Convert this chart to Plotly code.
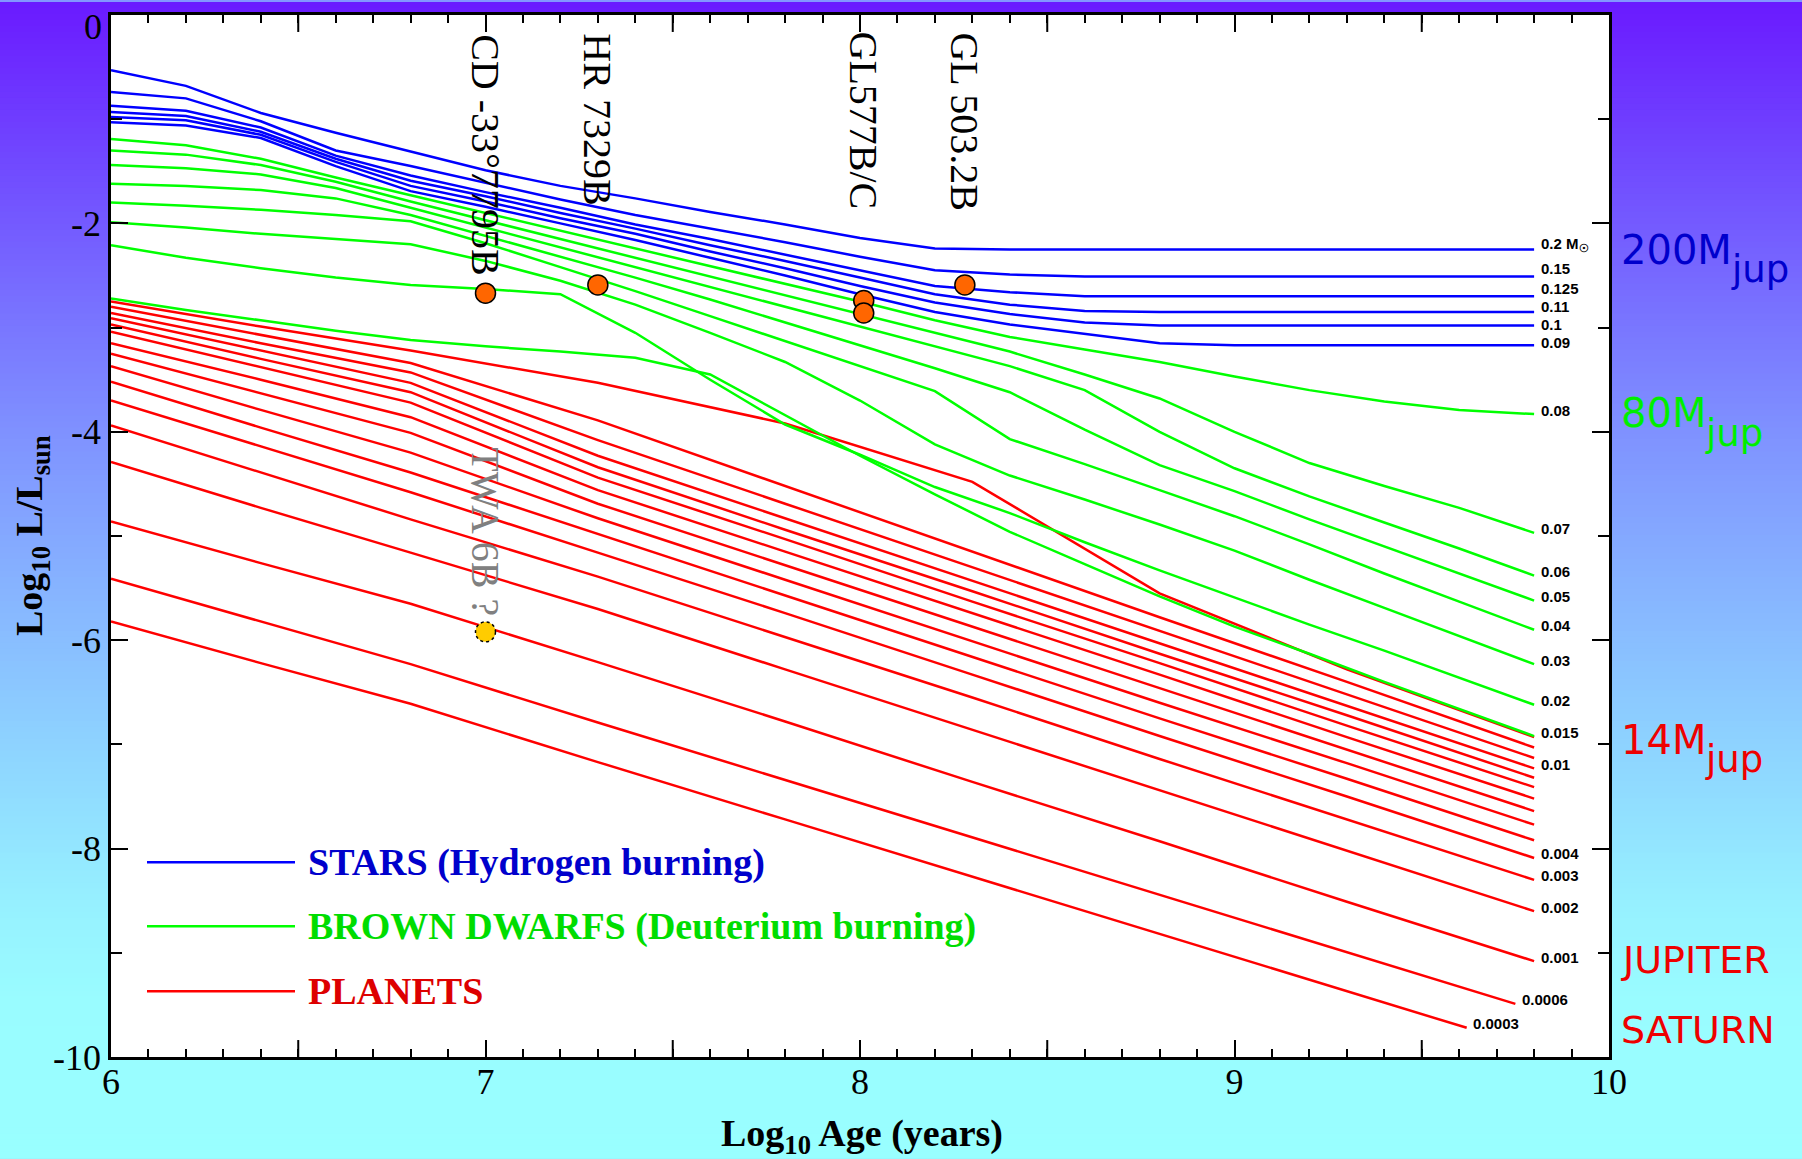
import plotly.graph_objects as go

# ---------------- data (log10 age in years, log10 L/Lsun) ----------------
AGE = [6.0, 6.2, 6.4, 6.6, 6.8, 7.0, 7.2, 7.4, 7.6, 7.8,
       8.0, 8.2, 8.4, 8.6, 8.8, 9.0, 9.2, 9.4, 9.6, 9.8]

STAR_LABELS = ["0.2 M<sub>☉</sub>", "0.15", "0.125", "0.11", "0.1", "0.09"]
STAR_L = [
    [-0.53, -0.68, -0.94, -1.13, -1.31, -1.49, -1.64, -1.76, -1.89, -2.01,
     -2.14, -2.24, -2.25, -2.25, -2.25, -2.25, -2.25, -2.25, -2.25, -2.25],
    [-0.74, -0.80, -1.02, -1.30, -1.45, -1.61, -1.77, -1.92, -2.05, -2.18,
     -2.32, -2.45, -2.49, -2.51, -2.51, -2.51, -2.51, -2.51, -2.51, -2.51],
    [-0.87, -0.92, -1.08, -1.35, -1.54, -1.70, -1.85, -2.01, -2.15, -2.30,
     -2.45, -2.60, -2.66, -2.70, -2.70, -2.70, -2.70, -2.70, -2.70, -2.70],
    [-0.93, -0.97, -1.12, -1.38, -1.59, -1.74, -1.90, -2.05, -2.21, -2.36,
     -2.52, -2.68, -2.78, -2.84, -2.85, -2.85, -2.85, -2.85, -2.85, -2.85],
    [-0.98, -1.01, -1.15, -1.41, -1.64, -1.79, -1.95, -2.10, -2.27, -2.43,
     -2.60, -2.76, -2.87, -2.95, -2.98, -2.98, -2.98, -2.98, -2.98, -2.98],
    [-1.03, -1.06, -1.18, -1.45, -1.69, -1.84, -2.00, -2.16, -2.33, -2.50,
     -2.68, -2.85, -2.97, -3.06, -3.15, -3.17, -3.17, -3.17, -3.17, -3.17],
]
STAR_LABEL_SHIFT = [5, 8, 8, 5, 1, 3]

BD_LABELS = ["0.08", "0.07", "0.06", "0.05", "0.04", "0.03", "0.02", "0.015"]
BD_L = [
    [-1.19, -1.25, -1.38, -1.56, -1.73, -1.90, -2.07, -2.24, -2.41, -2.58,
     -2.75, -2.93, -3.09, -3.21, -3.33, -3.47, -3.60, -3.71, -3.79, -3.83],
    [-1.30, -1.34, -1.44, -1.60, -1.79, -1.97, -2.15, -2.33, -2.51, -2.69,
     -2.87, -3.05, -3.23, -3.45, -3.68, -4.00, -4.30, -4.52, -4.73, -4.97],
    [-1.44, -1.47, -1.53, -1.66, -1.85, -2.04, -2.23, -2.42, -2.61, -2.80,
     -2.99, -3.18, -3.37, -3.60, -4.00, -4.35, -4.62, -4.87, -5.12, -5.38],
    [-1.62, -1.64, -1.68, -1.76, -1.92, -2.12, -2.32, -2.52, -2.73, -2.95,
     -3.17, -3.39, -3.62, -3.98, -4.32, -4.57, -4.84, -5.10, -5.36, -5.62],
    [-1.80, -1.83, -1.87, -1.92, -1.98, -2.19, -2.42, -2.65, -2.89, -3.13,
     -3.37, -3.61, -4.07, -4.31, -4.56, -4.81, -5.08, -5.36, -5.63, -5.90],
    [-1.99, -2.04, -2.10, -2.15, -2.20, -2.36, -2.55, -2.78, -3.05, -3.33,
     -3.70, -4.12, -4.42, -4.65, -4.89, -5.14, -5.42, -5.69, -5.96, -6.23],
    [-2.21, -2.33, -2.43, -2.52, -2.59, -2.63, -2.68, -3.05, -3.50, -3.93,
     -4.22, -4.53, -4.78, -5.06, -5.33, -5.59, -5.85, -6.10, -6.36, -6.62],
    [-2.72, -2.83, -2.93, -3.03, -3.12, -3.18, -3.23, -3.29, -3.45, -3.84,
     -4.23, -4.60, -4.96, -5.27, -5.58, -5.87, -6.13, -6.40, -6.66, -6.92],
]

PLANET_AGE = [6.0, 6.4, 6.8, 7.3, 7.8, 8.3, 8.8, 9.3, 9.8]
PLANET_END_AGE = [9.8] * 14 + [9.75, 9.62]
PLANET_LABELS = ["", "", "", "0.01", "", "", "", "", "", "",
                 "0.004", "0.003", "0.002", "0.001", "0.0006", "0.0003"]
PLANET_L = [
    [-2.75, -2.99, -3.22, -3.53, -3.92, -4.48, -5.55, -6.28, -6.93],
    [-2.80, -3.07, -3.34, -3.89, -4.52, -5.15, -5.78, -6.40, -7.03],
    [-2.86, -3.15, -3.43, -4.08, -4.69, -5.30, -5.91, -6.52, -7.13],
    [-2.91, -3.22, -3.53, -4.23, -4.83, -5.43, -6.03, -6.63, -7.23],
    [-2.97, -3.30, -3.62, -4.34, -4.94, -5.53, -6.13, -6.72, -7.32],
    [-3.04, -3.38, -3.72, -4.44, -5.03, -5.63, -6.22, -6.82, -7.41],
    [-3.15, -3.50, -3.86, -4.56, -5.15, -5.74, -6.33, -6.93, -7.52],
    [-3.25, -3.63, -4.01, -4.69, -5.28, -5.87, -6.46, -7.05, -7.64],
    [-3.37, -3.79, -4.20, -4.83, -5.42, -6.01, -6.60, -7.18, -7.77],
    [-3.52, -3.96, -4.39, -4.98, -5.57, -6.16, -6.75, -7.33, -7.92],
    [-3.70, -4.14, -4.58, -5.16, -5.74, -6.33, -6.92, -7.50, -8.09],
    [-3.94, -4.39, -4.84, -5.39, -5.97, -6.55, -7.14, -7.72, -8.30],
    [-4.29, -4.73, -5.16, -5.70, -6.28, -6.86, -7.44, -8.02, -8.60],
    [-4.86, -5.26, -5.65, -6.21, -6.78, -7.36, -7.93, -8.51, -9.08],
    [-5.41, -5.82, -6.23, -6.79, -7.34, -7.89, -8.44, -8.99, -9.49],
    [-5.82, -6.22, -6.61, -7.17, -7.72, -8.27, -8.82, -9.37, -9.72],
]

OBJ_NAMES = ["CD -33°7795B", "HR 7329B", "GL577B/C", "GL577B/C", "GL 503.2B"]
OBJ_AGE = [7.00, 7.30, 8.01, 8.01, 8.28]
OBJ_LUM = [-2.67, -2.59, -2.74, -2.86, -2.59]
OBJ_LABEL_Y = [-1.34, -1.00, -1.01, None, -1.03]

TWA_NAME = "TWA 6B ?"
TWA_AGE = 7.00
TWA_LUM = -5.92
TWA_LABEL_Y = -4.96

X_TICKS = [6, 7, 8, 9, 10]
X_TEXT = ["6", "7", "8", "9", "10"]
X_HALF_TICKS = [6.5, 7.5, 8.5, 9.5]
Y_TICKS = [-2, -4, -6, -8, -10]
Y_TEXT = ["-2", "-4", "-6", "-8", "-10"]

# ---------------- geometry / style ----------------
W, H = 1802, 1159
ML, MR, MT, MB = 111, 193, 13, 102
PW, PH = W - ML - MR, H - MT - MB
BLUE, GREEN, RED = "#0000ff", "#00ff00", "#ff0000"
SERIF = "Liberation Serif, Times New Roman, serif"
SANS = "DejaVu Sans, Verdana, sans-serif"


def xp(px):
    return (px - ML) / PW


def yp(py):
    return (H - MB - py) / PH


STOPS = [(0, (106, 26, 255)), (150, (112, 70, 255)), (300, (120, 112, 255)),
         (450, (128, 150, 255)), (600, (135, 182, 255)), (750, (142, 212, 255)),
         (900, (150, 240, 255)), (1000, (153, 252, 255)), (1159, (153, 255, 255))]


def grad(py):
    for (a, ca), (b, cb) in zip(STOPS[:-1], STOPS[1:]):
        if a <= py <= b:
            t = (py - a) / (b - a)
            return "rgb(%d,%d,%d)" % tuple(round(ca[i] + t * (cb[i] - ca[i])) for i in range(3))
    return "rgb(153,255,255)"


shapes = []
step = 6
for py in range(0, H, step):
    shapes.append(dict(type="rect", xref="paper", yref="paper", layer="below",
                       x0=xp(0), x1=xp(W), y0=yp(min(H, py + step + 1)), y1=yp(py),
                       fillcolor=grad(py + step / 2), line=dict(width=0)))
shapes.append(dict(type="rect", xref="paper", yref="paper", layer="below",
                   x0=0, x1=1, y0=0, y1=1, fillcolor="white", line=dict(width=0)))

# long half-unit ticks on bottom and top axes
for xv in X_HALF_TICKS:
    for y0, y1 in [(0, 17 / PH), (1 - 17 / PH, 1)]:
        shapes.append(dict(type="line", xref="x", yref="paper", x0=xv, x1=xv, y0=y0, y1=y1,
                           line=dict(color="black", width=2), layer="above"))

fig = go.Figure()

# planets (red)
for i, lums in enumerate(PLANET_L):
    ages = PLANET_AGE[:-1] + [PLANET_END_AGE[i]]
    fig.add_trace(go.Scatter(x=ages, y=lums, mode="lines",
                             line=dict(color=RED, width=2.5), showlegend=False,
                             hoverinfo="skip"))
# brown dwarfs (green)
for lums in BD_L:
    fig.add_trace(go.Scatter(x=AGE, y=lums, mode="lines",
                             line=dict(color=GREEN, width=2.5), showlegend=False,
                             hoverinfo="skip"))
# stars (blue)
for lums in STAR_L:
    fig.add_trace(go.Scatter(x=AGE, y=lums, mode="lines",
                             line=dict(color=BLUE, width=2.5), showlegend=False,
                             hoverinfo="skip"))

# observed objects
fig.add_trace(go.Scatter(x=OBJ_AGE, y=OBJ_LUM, mode="markers",
                         marker=dict(size=20, color="#ff6600",
                                     line=dict(color="black", width=1.5)),
                         showlegend=False, hoverinfo="skip"))
fig.add_trace(go.Scatter(x=[TWA_AGE], y=[TWA_LUM], mode="markers",
                         marker=dict(size=20, color="#ffcc00",
                                     line=dict(color="rgba(0,0,0,0)", width=0)),
                         showlegend=False, hoverinfo="skip"))
shapes.append(dict(type="circle", xref="x", yref="y", xsizemode="pixel", ysizemode="pixel",
                   xanchor=TWA_AGE, yanchor=TWA_LUM, x0=-10, x1=10, y0=-10, y1=10,
                   line=dict(color="black", width=1.5, dash="dot"), layer="above"))

annotations = []
# object labels (rotated)
seen = set()
for name, age, ly in zip(OBJ_NAMES, OBJ_AGE, OBJ_LABEL_Y):
    if ly is None or name in seen:
        continue
    seen.add(name)
    annotations.append(dict(x=age, y=ly, xref="x", yref="y", text=name, showarrow=False,
                            textangle=90, xanchor="center", yanchor="middle",
                            font=dict(family=SERIF, size=40, color="black")))
annotations.append(dict(x=TWA_AGE, y=TWA_LABEL_Y, xref="x", yref="y", text=TWA_NAME,
                        showarrow=False, textangle=90, xanchor="center", yanchor="middle",
                        font=dict(family=SERIF, size=40, color="#808080")))

# mass labels at track ends
LBL_FONT = dict(family="Liberation Sans, Arial, sans-serif", size=15, color="black")
for lab, lums, sh in zip(STAR_LABELS, STAR_L, STAR_LABEL_SHIFT):
    annotations.append(dict(x=AGE[-1] + 0.015, y=lums[-1], text="<b>%s</b>" % lab,
                            showarrow=False, xanchor="left", yanchor="middle", yshift=sh,
                            borderpad=0, font=LBL_FONT))
for lab, lums in zip(BD_LABELS, BD_L):
    annotations.append(dict(x=AGE[-1] + 0.015, y=lums[-1], text="<b>%s</b>" % lab,
                            showarrow=False, xanchor="left", yanchor="middle", yshift=4,
                            borderpad=0, font=LBL_FONT))
for i, (lab, lums) in enumerate(zip(PLANET_LABELS, PLANET_L)):
    if lab:
        annotations.append(dict(x=PLANET_END_AGE[i] + 0.015, y=lums[-1], text="<b>%s</b>" % lab,
                                showarrow=False, xanchor="left", yanchor="middle", yshift=4,
                                borderpad=0, font=LBL_FONT))

# legend drawn inside the plot
LEG_ROWS = [("STARS (Hydrogen burning)", BLUE, "#0000cc", 862),
            ("BROWN DWARFS (Deuterium burning)", GREEN, "#00dd00", 926),
            ("PLANETS", RED, "#dd0000", 991)]
for text, lc, tc, py in LEG_ROWS:
    shapes.append(dict(type="line", xref="paper", yref="paper", x0=xp(147), x1=xp(295),
                       y0=yp(py), y1=yp(py), line=dict(color=lc, width=2.5), layer="above"))
    annotations.append(dict(x=xp(306), y=yp(py), xref="paper", yref="paper",
                            text="<b>%s</b>" % text, showarrow=False, xanchor="left",
                            yanchor="middle", font=dict(family=SERIF, size=38, color=tc)))

# right-side mass class labels
SIDE = [("200M", "jup", "#0000cc", 248, 1729, 268),
        ("80M", "jup", "#00ee00", 412, 1703, 432),
        ("14M", "jup", "#ee0000", 739, 1703, 759)]
for big, sub, col, py, sx, sy in SIDE:
    annotations.append(dict(x=xp(1619), y=yp(py), xref="paper", yref="paper", text=big,
                            showarrow=False, xanchor="left", yanchor="middle",
                            font=dict(family=SANS, size=40, color=col)))
    annotations.append(dict(x=xp(sx), y=yp(sy), xref="paper", yref="paper", text=sub,
                            showarrow=False, xanchor="left", yanchor="middle",
                            font=dict(family=SANS, size=37, color=col)))
for txt, py in [("JUPITER", 960), ("SATURN", 1030)]:
    annotations.append(dict(x=xp(1619), y=yp(py), xref="paper", yref="paper", text=txt,
                            showarrow=False, xanchor="left", yanchor="middle",
                            font=dict(family=SANS, size=38, color="#ee0000")))

# the "0" label sits just below the top of the axis in the reference
annotations.append(dict(x=xp(104), y=yp(25), xref="paper", yref="paper", text="0",
                        showarrow=False, xanchor="right", yanchor="middle",
                        font=dict(family=SERIF, size=36, color="black")))

# axis titles
annotations.append(dict(x=xp(862), y=yp(1136), xref="paper", yref="paper",
                        text="<b>Log<sub>10</sub> Age (years)</b>", showarrow=False,
                        xanchor="center", yanchor="middle",
                        font=dict(family=SERIF, size=38, color="black")))
annotations.append(dict(x=xp(32), y=yp(535), xref="paper", yref="paper",
                        text="<b>Log<sub>10</sub> L/L<sub>sun</sub></b>", showarrow=False,
                        textangle=-90, xanchor="center", yanchor="middle",
                        font=dict(family=SERIF, size=38, color="black")))

fig.update_layout(
    width=W, height=H,
    margin=dict(l=ML, r=MR, t=MT, b=MB, pad=0),
    paper_bgcolor="rgb(130,150,255)",
    plot_bgcolor="rgba(0,0,0,0)",
    shapes=shapes,
    annotations=annotations,
    showlegend=False,
    xaxis=dict(range=[6, 10], tickvals=X_TICKS, ticktext=X_TEXT, ticks="inside",
               ticklen=17, tickwidth=2, tickcolor="black", showline=True, linecolor="black",
               linewidth=2.5, mirror="ticks", showgrid=False, zeroline=False,
               tickfont=dict(family=SERIF, size=36, color="black"), ticklabelstandoff=-9,
               minor=dict(dtick=0.1, ticks="inside", ticklen=8, tickwidth=2,
                          tickcolor="black", showgrid=False)),
    yaxis=dict(range=[-10, 0], tickvals=Y_TICKS, ticktext=Y_TEXT, ticks="inside",
               ticklen=17, tickwidth=2, tickcolor="black", showline=True, linecolor="black",
               linewidth=2.5, mirror="ticks", showgrid=False, zeroline=False,
               tickfont=dict(family=SERIF, size=36, color="black"), ticklabelstandoff=0,
               minor=dict(dtick=1, ticks="inside", ticklen=11, tickwidth=2,
                          tickcolor="black", showgrid=False)),
)

fig.write_html("out.html", config={"displayModeBar": False},
               post_script="document.body.style.margin='0px';"
                           "document.body.style.overflow='hidden';")
